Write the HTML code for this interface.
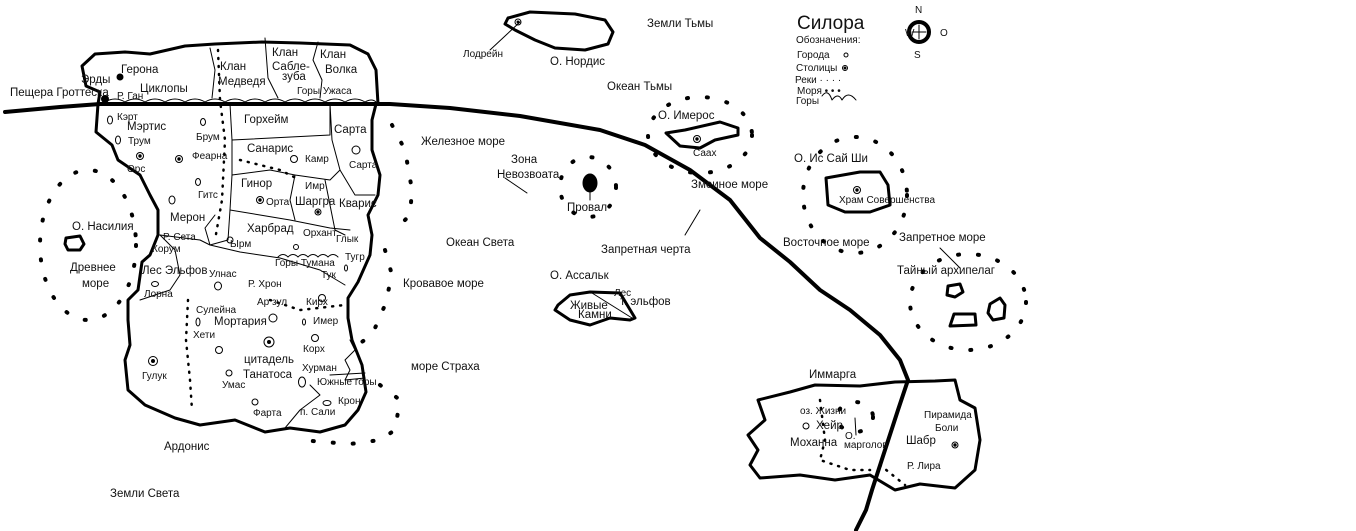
<!DOCTYPE html>
<html><head><meta charset="utf-8"><style>
html,body{margin:0;padding:0;background:#fff;width:1356px;height:531px;overflow:hidden}
svg{display:block}
text{font-family:"Liberation Sans","DejaVu Sans",sans-serif;fill:#111}
.s{font-size:10px}.m{font-size:11.5px}.b{font-size:12.5px}
</style></head><body>
<svg width="1356" height="531" viewBox="0 0 1356 531" xmlns="http://www.w3.org/2000/svg">
<g fill="none" stroke="#000" stroke-linecap="round" stroke-linejoin="round">
<path d="M98,104 L100,92 L86,86 L82,66 L95,54 L125,52 L150,54 L185,46 L215,44 L262,42 L300,43 L350,45 L368,54 L376,70 L378,104" stroke-width="3"/>
<path d="M98,104 L96,132 L112,145 L118,160 L140,175 L150,195 L158,210 L158,235 L150,255 L142,262 L138,290 L128,300 L128,320 L130,345 L125,360 L128,390 L145,405 L175,418 L200,425 L235,420 L265,432 L290,428 L320,432 L345,425 L358,410 L366,392 L362,365 L352,340 L348,318 L348,298 L358,282 L370,255 L372,235 L368,215 L378,195 L380,175 L372,150 L372,120 L376,104" stroke-width="3"/>
<path d="M5,112 L60,107 L100,104 L390,104 L450,108 L520,116 L600,130 L645,145 L690,170 L730,200 L760,238 L790,262 L820,290 L850,310 L880,335 L900,360 L908,380 L898,410 L885,450 L872,490 L866,510 L856,530" stroke-width="4"/>
<g stroke-width="1">
<path d="M230,104 L232,140 L330,135 L330,104"/>
<path d="M330,104 L332,140 L340,170 L355,195 L375,195"/>
<path d="M232,140 L232,175 L270,170 L295,175 L330,180 L340,170"/>
<path d="M232,175 L230,210 L260,215 L290,220 L330,228 L350,230"/>
<path d="M295,175 L290,200 L295,220"/>
<path d="M325,180 L330,205 L335,230 L345,235"/>
<path d="M230,210 L228,240 L210,245 L200,240 L160,235"/>
<path d="M210,245 L240,252 L280,258 L320,270 L345,285"/>
<path d="M160,235 L175,250 L180,275 L170,290 L140,300"/>
<path d="M265,38 L268,78 L278,98"/>
<path d="M318,42 L313,60 L322,80 L320,98"/>
<path d="M210,48 L215,70 L212,98"/>
<path d="M210,245 L205,228 L215,215"/>
<path d="M330,375 L365,373"/>
<path d="M310,385 L320,395 L300,410 L285,428"/>
<path d="M350,340 L355,350 L345,360 L350,370 L345,380 L365,378"/>
<path d="M105,102 Q115,96 125,102 Q135,96 145,102 Q155,96 165,102 Q175,96 185,102 Q195,96 205,102 Q215,96 225,102 Q235,96 245,102 Q255,96 265,102 Q275,96 285,102 Q295,96 305,102 Q315,96 325,102 Q335,96 345,102 Q355,96 365,102 Q372,98 376,102"/>
<path d="M278,257 Q283,252 288,257 Q293,252 298,257 Q303,252 308,257 Q313,252 318,257 Q323,252 328,257 Q333,252 338,257"/>
</g>
<g stroke-width="2.5" stroke-dasharray="1 7">
<path d="M218,50 L220,100 L225,140 L222,200 L215,240"/>
<path d="M188,300 L186,340 L190,380 L192,410"/>
<path d="M240,160 L280,170 L300,180"/>
<path d="M270,300 L300,310 L345,305"/>
<path d="M820,400 L825,440 L820,460 L850,470 L870,470"/>
<path d="M880,465 L905,485"/>
</g>
<g stroke-width="4" stroke-dasharray="1 19">
<ellipse cx="88" cy="245" rx="48" ry="75"/>
<path d="M392,125 L405,150 L412,190 L410,215 L395,230"/>
<path d="M385,250 L392,275 L385,305 L372,335 L350,350"/>
<path d="M380,385 L400,400 L395,430 L380,440 L350,444 L300,440"/>
<ellipse cx="588" cy="187" rx="28" ry="30"/>
<ellipse cx="700" cy="135" rx="52" ry="38"/>
<ellipse cx="855" cy="195" rx="52" ry="58"/>
<ellipse cx="968" cy="302" rx="58" ry="48"/>
<ellipse cx="855" cy="417" rx="18" ry="15"/>
</g>
<g stroke-width="3">
<path d="M66,238 L80,236 L84,244 L80,250 L68,250 L65,244 Z"/>
<path d="M508,18 L530,12 L575,14 L605,20 L613,32 L608,44 L585,50 L555,48 L535,40 L515,30 L505,24 Z"/>
<path d="M666,133 L685,130 L720,122 L738,128 L738,135 L715,140 L700,148 L680,146 Z"/>
<path d="M826,178 L860,172 L880,172 L888,185 L890,205 L870,212 L845,212 L828,205 Z"/>
<path d="M948,286 L960,284 L963,292 L955,297 L947,295 Z"/>
<path d="M990,304 L1000,298 L1005,305 L1004,318 L993,320 L988,313 Z"/>
<path d="M954,314 L975,314 L976,325 L950,326 Z"/>
<path d="M558,305 L570,295 L590,292 L620,293 L635,318 L630,320 L610,318 L590,325 L570,320 L555,310 Z"/>
<path d="M758,400 L790,392 L815,385 L860,386 L895,382 L935,381 L955,380 L960,400 L975,408 L980,440 L975,470 L955,488 L920,484 L895,490 L870,475 L835,480 L800,475 L760,478 L750,465 L758,450 L748,435 L765,420 Z"/>
</g>
<ellipse cx="590" cy="183" rx="7" ry="9" fill="#000" stroke-width="1"/>
<path d="M590,192 L590,200" stroke-width="1"/>
<path d="M520,22 L490,50 M592,293 L632,318 M700,210 L685,235 M940,248 L960,268 M855,418 L856,435 M527,193 L505,178" stroke-width="1"/>
<circle cx="919" cy="32" r="10" stroke-width="4"/>
<path d="M912,32 L926,32 M919,25 L919,39" stroke-width="1"/>
<path d="M822,96 Q828,88 832,100 Q838,92 842,100 Q848,90 856,100" stroke-width="1"/>
</g>
<g fill="none" stroke="#000" stroke-width="1">
<ellipse cx="110" cy="120" rx="2.5" ry="4"/><ellipse cx="118" cy="140" rx="2.5" ry="4"/>
<circle cx="140" cy="156" r="3.5"/><circle cx="140" cy="156" r="1.2" fill="#000"/>
<circle cx="179" cy="159" r="3.5"/><circle cx="179" cy="159" r="1.2" fill="#000"/>
<ellipse cx="203" cy="122" rx="2.5" ry="3.5"/><ellipse cx="198" cy="182" rx="2.5" ry="3.5"/>
<ellipse cx="172" cy="200" rx="3" ry="4"/><ellipse cx="356" cy="150" rx="4" ry="4"/>
<circle cx="294" cy="159" r="3.5"/><circle cx="260" cy="200" r="3.5"/><circle cx="260" cy="200" r="1.2" fill="#000"/>
<circle cx="318" cy="212" r="3"/><circle cx="318" cy="212" r="1.2" fill="#000"/>
<circle cx="296" cy="247" r="2.5"/><circle cx="230" cy="240" r="3"/>
<ellipse cx="218" cy="286" rx="3.5" ry="4"/><ellipse cx="155" cy="284" rx="3.5" ry="2.5"/>
<ellipse cx="198" cy="322" rx="2" ry="4"/><circle cx="273" cy="318" r="4"/>
<circle cx="269" cy="342" r="5"/><circle cx="269" cy="342" r="1.5" fill="#000"/>
<circle cx="219" cy="350" r="3.5"/><circle cx="229" cy="373" r="3"/><ellipse cx="302" cy="382" rx="3.5" ry="5"/>
<circle cx="255" cy="402" r="3"/><ellipse cx="327" cy="403" rx="4" ry="2.5"/>
<circle cx="322" cy="298" r="3.5"/><circle cx="315" cy="338" r="3.5"/><ellipse cx="304" cy="322" rx="1.5" ry="3"/>
<ellipse cx="346" cy="268" rx="1.5" ry="3"/><circle cx="153" cy="361" r="4.5"/><circle cx="153" cy="361" r="1.5" fill="#000"/>
<circle cx="518" cy="22" r="3"/><circle cx="518" cy="22" r="1" fill="#000"/>
<circle cx="697" cy="139" r="3.5"/><circle cx="697" cy="139" r="1.2" fill="#000"/>
<circle cx="857" cy="190" r="3.5"/><circle cx="857" cy="190" r="1.2" fill="#000"/>
<circle cx="806" cy="426" r="3"/><circle cx="955" cy="445" r="3"/><circle cx="955" cy="445" r="1.2" fill="#000"/>
<circle cx="846" cy="55" r="2"/><circle cx="845" cy="68" r="2.5"/><circle cx="845" cy="68" r="1" fill="#000"/>
</g>
<circle cx="120" cy="77" r="3.5"/><circle cx="105" cy="99" r="4"/>
<g class="m">
<text x="81" y="83">Эрды</text><text x="121" y="73">Герона</text><text x="140" y="92">Циклопы</text>
<text x="10" y="96">Пещера Гроттеска</text><text x="117" y="99" class="s">Р. Ган</text>
<text x="220" y="70">Клан</text><text x="218" y="85">Медведя</text>
<text x="272" y="56">Клан</text><text x="272" y="70">Сабле-</text><text x="282" y="80">зуба</text>
<text x="320" y="58">Клан</text><text x="325" y="73">Волка</text><text x="297" y="94" class="s">Горы Ужаса</text>
<text x="117" y="120" class="s">Кэрт</text><text x="127" y="130">Мэртис</text><text x="128" y="144" class="s">Трум</text>
<text x="127" y="172" class="s">Орс</text><text x="196" y="140" class="s">Брум</text><text x="192" y="159" class="s">Феарна</text>
<text x="198" y="198" class="s">Гитс</text><text x="170" y="221">Мерон</text><text x="163" y="240" class="s">Р. Сета</text>
<text x="152" y="252" class="s">Корум</text><text x="230" y="247" class="s">Ырм</text>
<text x="244" y="123">Горхейм</text><text x="247" y="152">Санарис</text><text x="305" y="162" class="s">Камр</text>
<text x="334" y="133">Сарта</text><text x="349" y="168" class="s">Сарта</text>
<text x="241" y="187">Гинор</text><text x="266" y="205" class="s">Орта</text><text x="305" y="189" class="s">Имр</text>
<text x="295" y="205">Шаргра</text><text x="339" y="207">Кварис</text>
<text x="247" y="232">Харбрад</text><text x="303" y="236" class="s">Орхант</text><text x="336" y="242" class="s">Глык</text>
<text x="275" y="266" class="s">Горы Тумана</text><text x="321" y="278" class="s">Тук</text><text x="345" y="260" class="s">Тугр</text>
<text x="142" y="274">Лес Эльфов</text><text x="144" y="297" class="s">Лорна</text>
<text x="209" y="277" class="s">Улнас</text><text x="248" y="287" class="s">Р. Хрон</text><text x="257" y="305" class="s">Ар зул</text>
<text x="306" y="305" class="s">Кирх</text><text x="313" y="324" class="s">Имер</text><text x="303" y="352" class="s">Корх</text>
<text x="196" y="313" class="s">Сулейна</text><text x="214" y="325">Мортария</text><text x="193" y="338" class="s">Хети</text>
<text x="244" y="363">цитадель</text><text x="243" y="378">Танатоса</text><text x="222" y="388" class="s">Умас</text>
<text x="302" y="371" class="s">Хурман</text><text x="317" y="385" class="s">Южные горы</text>
<text x="338" y="404" class="s">Крон</text><text x="300" y="415" class="s">п. Сали</text><text x="253" y="416" class="s">Фарта</text>
<text x="142" y="379" class="s">Гулук</text>
<text x="72" y="230">О. Насилия</text><text x="70" y="271">Древнее</text><text x="82" y="287">море</text>
<text x="164" y="450">Ардонис</text><text x="110" y="497">Земли Света</text>
<text x="421" y="145">Железное море</text><text x="511" y="163">Зона</text><text x="497" y="178">Невозвоата</text>
<text x="567" y="211">Провал</text><text x="446" y="246">Океан Света</text><text x="403" y="287">Кровавое море</text>
<text x="411" y="370">море Страха</text><text x="550" y="279">О. Ассальк</text>
<text x="570" y="309">Живые</text><text x="578" y="318">Камни</text><text x="614" y="296" class="s">Лес</text><text x="620" y="305">т. эльфов</text>
<text x="601" y="253">Запретная черта</text>
<text x="463" y="57" class="s">Лодрейн</text><text x="550" y="65">О. Нордис</text>
<text x="647" y="27">Земли Тьмы</text><text x="607" y="90">Океан Тьмы</text>
<text x="658" y="119">О. Имерос</text><text x="693" y="156" class="s">Саах</text>
<text x="691" y="188">Змеиное море</text><text x="794" y="162">О. Ис Сай Ши</text>
<text x="839" y="203" class="s">Храм Совершенства</text><text x="783" y="246">Восточное море</text>
<text x="899" y="241">Запретное море</text><text x="897" y="274">Тайный архипелаг</text>
<text x="809" y="378">Иммарга</text><text x="800" y="414" class="s">оз. Жизни</text><text x="816" y="429">Хейр</text>
<text x="790" y="446">Моханна</text><text x="845" y="439" class="s">О.</text><text x="844" y="448" class="s">марголов</text>
<text x="906" y="444">Шабр</text><text x="924" y="418" class="s">Пирамида</text><text x="935" y="431" class="s">Боли</text>
<text x="907" y="469" class="s">Р. Лира</text>
<text x="797" y="29" style="font-size:19px">Силора</text><text x="796" y="43" class="s">Обозначения:</text>
<text x="797" y="58" class="s">Города</text><text x="796" y="71" class="s">Столицы</text><text x="795" y="83" class="s">Реки · · · ·</text>
<text x="797" y="94" class="s">Моря • • •</text><text x="796" y="104" class="s">Горы</text>
<text x="915" y="13" class="s">N</text><text x="905" y="36" class="s">W</text><text x="940" y="36" class="s">O</text><text x="914" y="58" class="s">S</text>
</g>
</svg>
</body></html>
